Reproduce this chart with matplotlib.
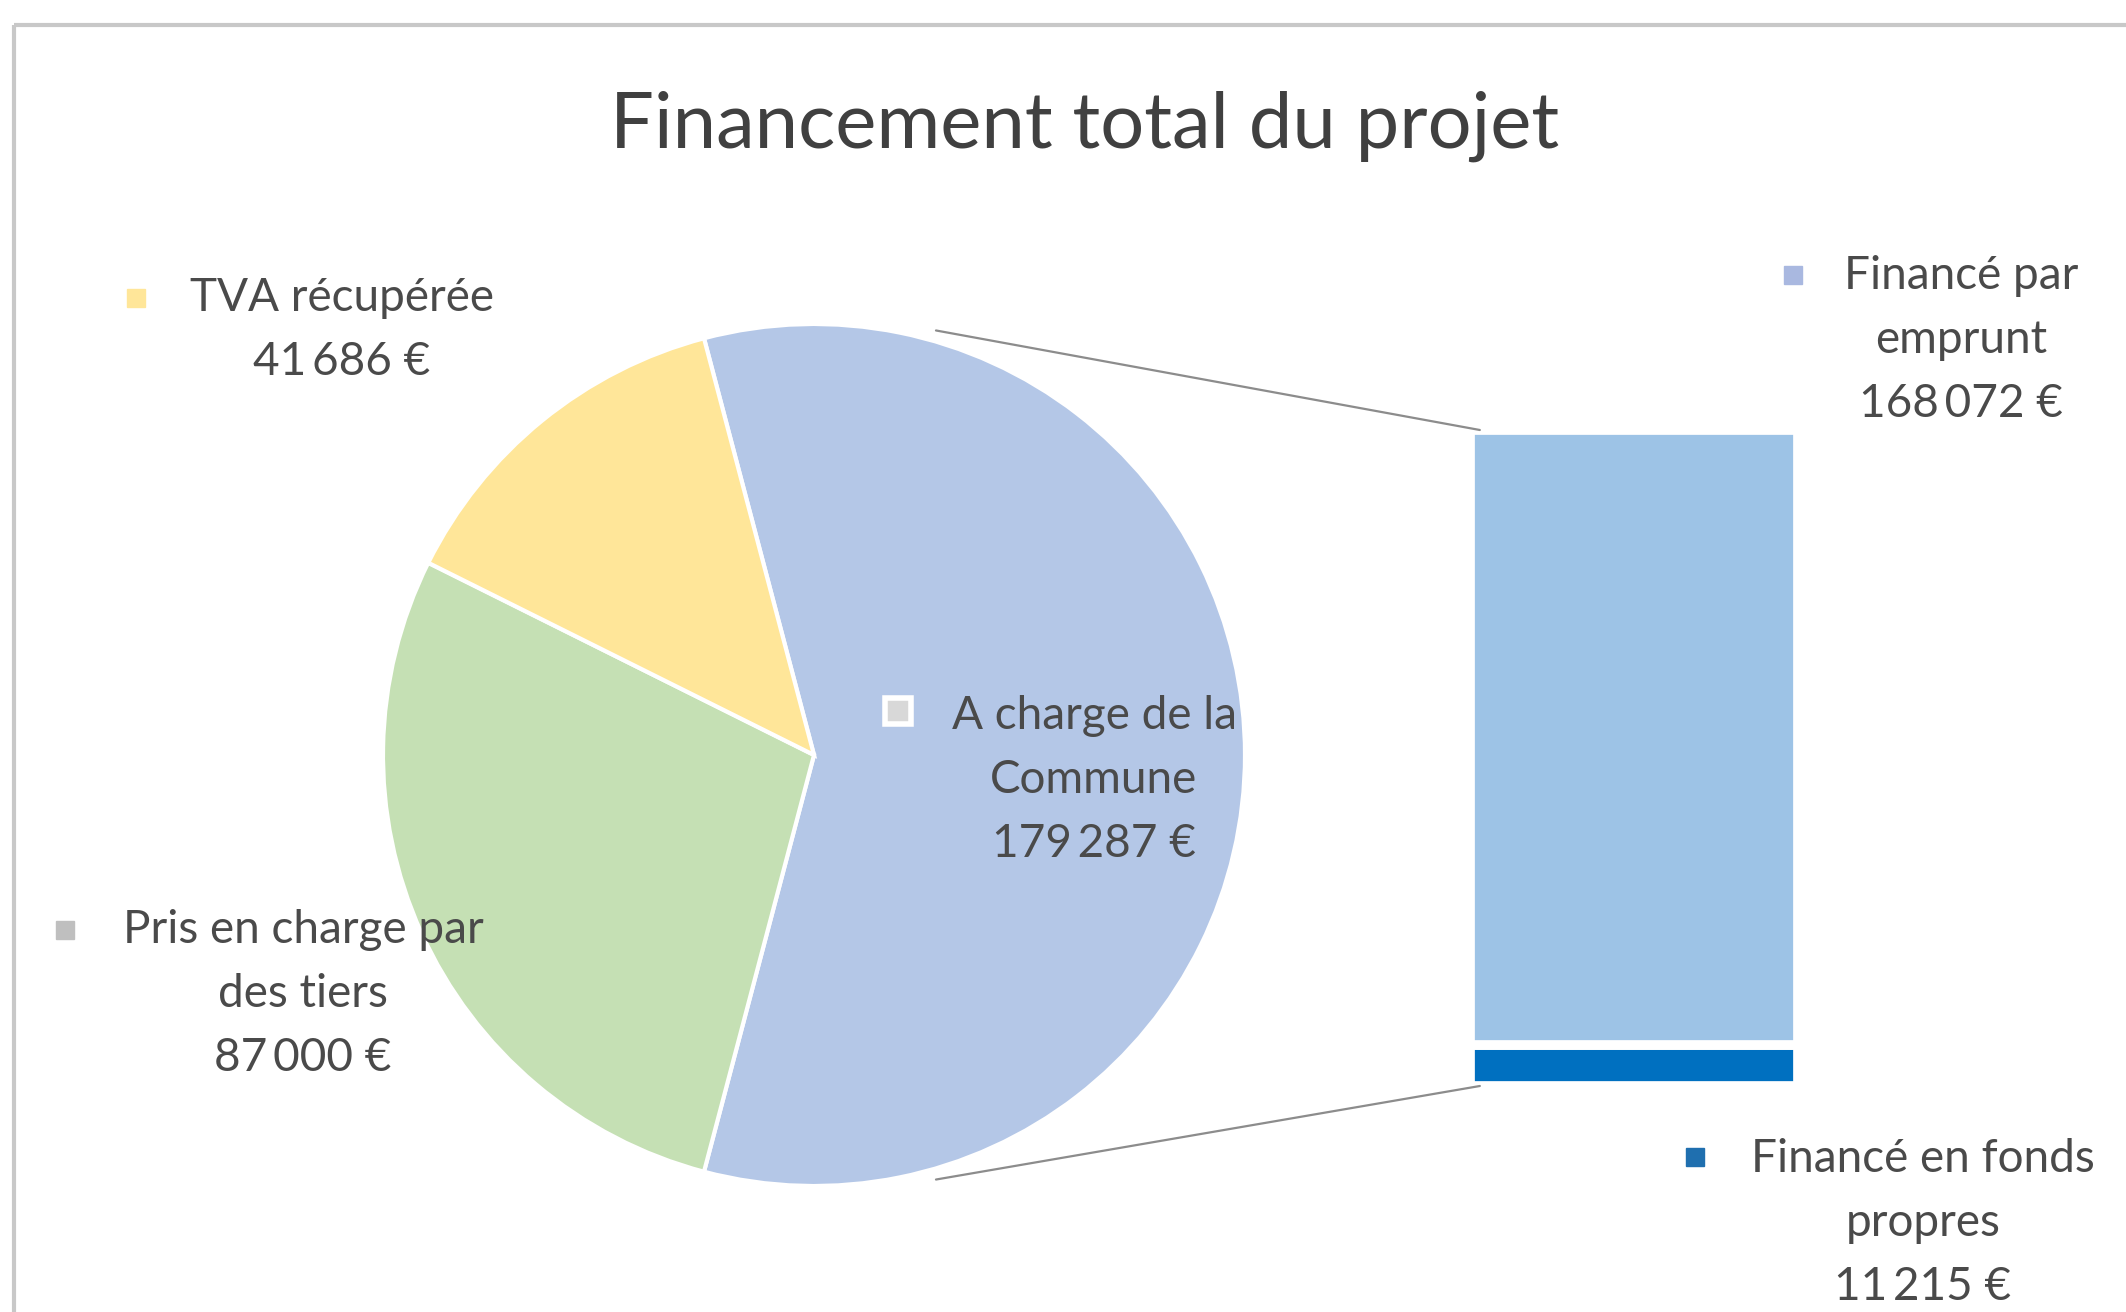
import matplotlib.pyplot as plt
from matplotlib.patches import Rectangle, ConnectionPatch

# data
title = "Financement total du projet"
pie_labels = ["A charge de la\nCommune", "Pris en charge par\ndes tiers", "TVA récupérée"]
pie_values = [179287, 87000, 41686]
bar_labels = ["Financé en fonds\npropres", "Financé par\nemprunt"]
bar_values = [11215, 168072]

pie_colors = ["#B4C7E7", "#C5E0B4", "#FFE699"]
bar_colors = ["#0070C0", "#9DC3E6"]


def euro(v):
    return f"{v:,}".replace(",", "\u2009") + " €"


plt.rcParams['font.family'] = ['Lato', 'DejaVu Sans']
W, H = 2126, 1312
fig = plt.figure(figsize=(W / 100, H / 100), dpi=100)


def px_axes(x0, y0, x1, y1):
    # axes from pixel box (top-left origin)
    return fig.add_axes([x0 / W, 1 - y1 / H, (x1 - x0) / W, (y1 - y0) / H])


# pie, split slice faces the bar
cx, cy, r = 814, 755, 431
pax = px_axes(cx - r, cy - r, cx + r, cy + r)
half = 360 * pie_values[0] / sum(pie_values) / 2
pax.pie(pie_values, colors=pie_colors, startangle=half, counterclock=False,
        radius=1, wedgeprops=dict(edgecolor="white", linewidth=3))
pax.set_xlim(-1, 1)
pax.set_ylim(-1, 1)
pax.set_aspect("equal")
pax.axis("off")

# stacked bar for the split slice
bax = px_axes(1470, 430, 1798, 1086)
bottom = 0
for v, c in zip(bar_values, bar_colors):
    bax.bar(0, v, bottom=bottom, width=1, color=c, edgecolor="white", linewidth=7)
    bottom += v
bax.set_xlim(-0.5, 0.5)
bax.set_ylim(0, bottom)
bax.axis("off")

# connector lines
for py, by in [(0.985, bottom), (-0.985, 0)]:
    con = ConnectionPatch(xyA=(0.283, py), coordsA=pax.transData,
                          xyB=(-0.47, by), coordsB=bax.transData,
                          color="#8C8C8C", linewidth=1.6)
    fig.add_artist(con)

# overlay for frame, title and labels
ov = fig.add_axes([0, 0, 1, 1], zorder=5)
ov.set_xlim(0, W)
ov.set_ylim(H, 0)
ov.axis("off")
ov.add_patch(Rectangle((14, 25), W + 40, H + 40, fill=False,
                       edgecolor="#C8C8C8", linewidth=3))
ov.text(1085, 126, title, ha="center", va="center", fontsize=56, color="#404040")

txt = dict(ha="center", va="center", fontsize=33, color="#4a4a4a", linespacing=1.65)
label_pos = [(1094, 780), (303, 994), (342, 330)]
marker_pos = [(898, 711), (65, 930), (136, 298)]
marker_cols = ["white", "#BFBFBF", "#FFE699"]
for lab, v, (x, y), (mx, my), mc in zip(pie_labels, pie_values, label_pos, marker_pos, marker_cols):
    ov.text(x, y, lab + "\n" + euro(v), **txt)
    if mc == "white":
        ov.add_patch(Rectangle((mx - 13, my - 13), 26, 26, facecolor="#D8D8D8",
                               edgecolor="white", linewidth=4))
    else:
        ov.add_patch(Rectangle((mx - 9, my - 9), 18, 18, facecolor=mc, edgecolor=mc))

bar_label_pos = [(1923, 1223), (1961, 340)]
bar_marker_pos = [(1695, 1157), (1793, 275)]
bar_marker_cols = ["#1F6FAF", "#A9B8E0"]
for lab, v, (x, y), (mx, my), mc in zip(bar_labels, bar_values, bar_label_pos, bar_marker_pos, bar_marker_cols):
    ov.text(x, y, lab + "\n" + euro(v), **txt)
    ov.add_patch(Rectangle((mx - 9, my - 9), 18, 18, facecolor=mc, edgecolor=mc))

fig.savefig("out.png", dpi=100, facecolor="white")
